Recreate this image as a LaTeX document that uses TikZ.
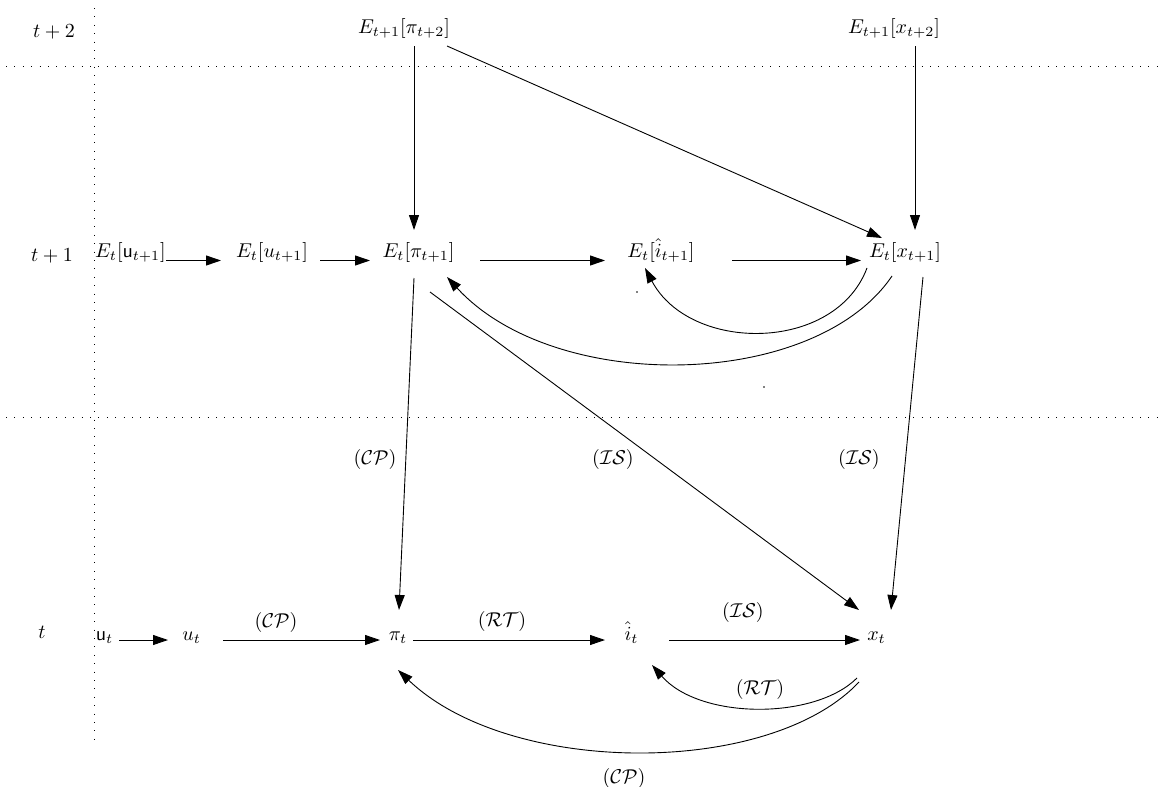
\documentclass[tikz,border=0pt]{standalone}
\usetikzlibrary{arrows.meta}
\begin{document}
\begin{tikzpicture}[x=0.5pt,y=-0.5pt,
  lbl/.style={inner sep=0pt,anchor=base},
  elbl/.style={inner sep=0pt,anchor=center},
  arr/.style={-{Triangle[length=7.5pt,width=5pt]},line width=0.45pt},
  gridline/.style={line width=0.5pt,dash pattern=on 0.5pt off 3.7pt}]
\useasboundingbox (0,0) rectangle (1163,787);
% dotted grid
\draw[gridline] (94,8) -- (94,740);
\draw[gridline] (6,66) -- (1163,66);
\draw[gridline] (6,417) -- (1163,417);
% row labels
\node[lbl] (tp2) at (54,37.5) {$t+2$};
\node[lbl] (tp1) at (52,261) {$t+1$};
\node[lbl] (tt) at (42,638) {$t$};
% row t+2
\node[lbl] (Epi2) at (404,33) {$E_{t+1}[\pi_{t+2}]$};
\node[lbl] (Ex2) at (894,33) {$E_{t+1}[x_{t+2}]$};
% row t+1
\node[lbl] (Eus) at (130.5,257) {$E_t[\mathsf{u}_{t+1}]$};
\node[lbl] (Eu) at (272,257) {$E_t[u_{t+1}]$};
\node[lbl] (Epi) at (418.5,257) {$E_t[\pi_{t+1}]$};
\node[lbl] (Ei) at (661,257) {$E_t[\hat{i}_{t+1}]$};
\node[lbl] (Ex) at (905,257) {$E_t[x_{t+1}]$};
% row t
\node[lbl] (us) at (104.5,640) {$\mathsf{u}_t$};
\node[lbl] (ut) at (191.7,640) {$u_t$};
\node[lbl] (pit) at (398,640) {$\pi_t$};
\node[lbl] (ih) at (631.5,640) {$\hat{i}_t$};
\node[lbl] (xt) at (876.5,640) {$x_t$};
% edge labels
\node[elbl] (l1) at (276,622) {$(\mathcal{CP})$};
\node[elbl] (l2) at (502,621) {$(\mathcal{RT})$};
\node[elbl] (l3) at (743,612) {$(\mathcal{IS})$};
\node[elbl] (l4) at (760,689) {$(\mathcal{RT})$};
\node[elbl] (l5) at (624,778) {$(\mathcal{CP})$};
\node[elbl] (l6) at (375,459) {$(\mathcal{CP})$};
\node[elbl] (l7) at (613,459) {$(\mathcal{IS})$};
\node[elbl] (l8) at (859,459) {$(\mathcal{IS})$};
% row t+1 horizontal arrows
\draw[arr] ([shift={(35.5,3.5)}]Eus.base) -- ([shift={(-51,3.5)}]Eu.base);
\draw[arr] ([shift={(48,3.5)}]Eu.base) -- ([shift={(-48.5,3.5)}]Epi.base);
\draw[arr] ([shift={(61.5,3.5)}]Epi.base) -- ([shift={(-56,3.5)}]Ei.base);
\draw[arr] ([shift={(71,3.5)}]Ei.base) -- ([shift={(-44,3.5)}]Ex.base);
% from t+2
\draw[arr] ([shift={(10,13)}]Epi2.base) -- ([shift={(-4.5,-27)}]Epi.base);
\draw[arr] ([shift={(43,13)}]Epi2.base) -- ([shift={(-23,-19)}]Ex.base);
\draw[arr] ([shift={(21,13)}]Ex2.base) -- ([shift={(10,-27)}]Ex.base);
% curves in row t+1
\draw[arr] ([shift={(-38,11)}]Ex.base) .. controls +(-32,85) and +(45,85) .. ([shift={(-16,11)}]Ei.base);
\draw[arr] ([shift={(-13,19)}]Ex.base) .. controls +(-77,114) and +(108,118) .. ([shift={(28.5,20)}]Epi.base);
% t+1 to t
\draw[arr] ([shift={(-4.5,21)}]Epi.base) -- ([shift={(1,-30)}]pit.base);
\draw[arr] ([shift={(11.5,35)}]Epi.base) -- ([shift={(-17.5,-30)}]xt.base);
\draw[arr] ([shift={(18,20)}]Ex.base) -- ([shift={(14.5,-30)}]xt.base);
% row t
\draw[arr] ([shift={(14.5,0)}]us.base) -- ([shift={(-23.7,0)}]ut.base);
\draw[arr] ([shift={(31.3,0)}]ut.base) -- ([shift={(-18,0)}]pit.base);
\draw[arr] ([shift={(15,0)}]pit.base) -- ([shift={(-26.5,0)}]ih.base);
\draw[arr] ([shift={(37.5,0)}]ih.base) -- ([shift={(-16.5,0)}]xt.base);
\draw[arr] ([shift={(-19.5,38)}]xt.base) .. controls +(-42,42) and +(48,55) .. ([shift={(20.5,25)}]ih.base);
\draw[arr] ([shift={(-17.5,42)}]xt.base) .. controls +(-89,95) and +(112,107) .. ([shift={(0,30)}]pit.base);
% tiny stray dots
\fill (637,292) circle (0.4pt);
\fill (764,387) circle (0.4pt);
\end{tikzpicture}
\end{document}
